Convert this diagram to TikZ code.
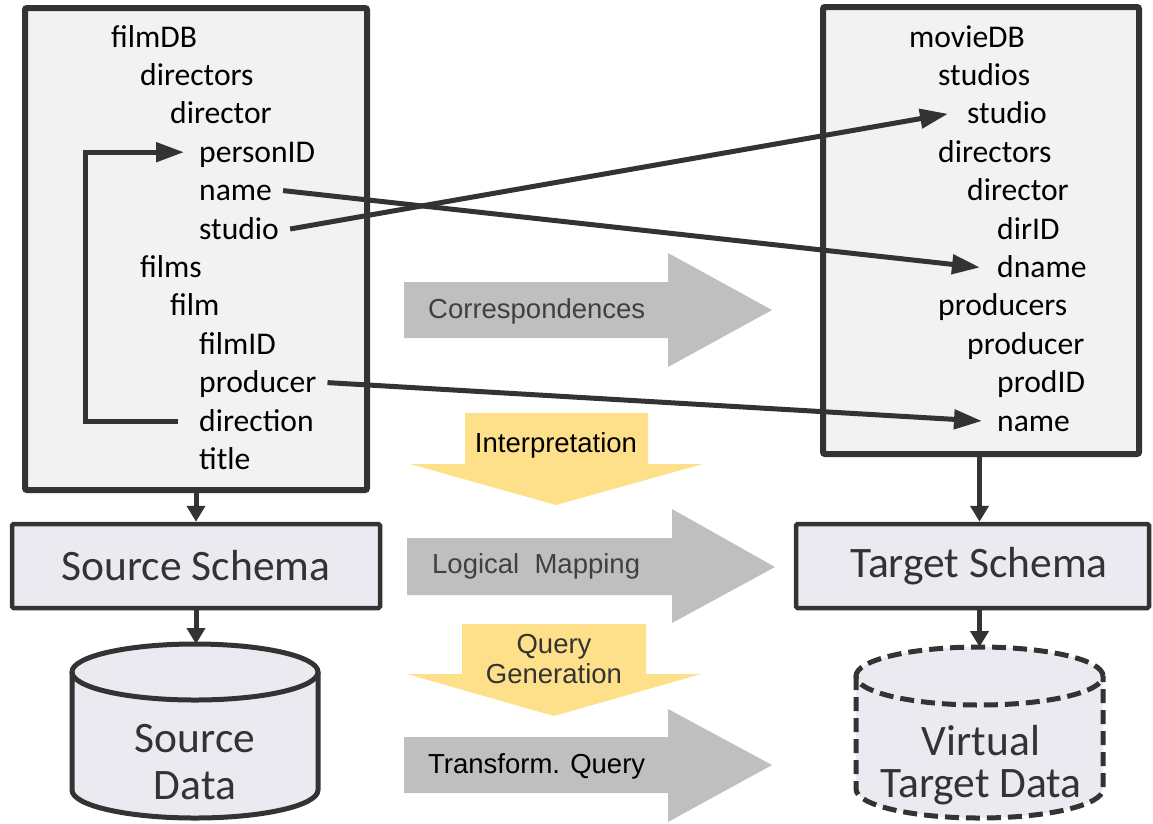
\documentclass[tikz,border=0pt]{standalone}
\usepackage{fontspec}
\setmainfont{Carlito}
\newfontfamily\arialfont{Liberation Sans}
\usetikzlibrary{arrows.meta}
\definecolor{ink}{HTML}{333333}
\definecolor{boxgray}{HTML}{F2F2F2}
\definecolor{lav}{HTML}{ECEAF1}
\definecolor{arrowgray}{HTML}{BFBFBF}
\definecolor{yell}{HTML}{FFE08A}
\definecolor{lbl}{HTML}{404040}
\newcommand{\itemfont}{\fontsize{31.6}{38}\selectfont}
\newcommand{\bigfont}{\fontsize{43.5}{47}\selectfont}
\newcommand{\labelfont}{\arialfont\fontsize{27.5}{30}\selectfont}
\tikzset{
  schemabox/.style={draw=ink, line width=6pt, fill=boxgray, rounded corners=2pt, inner sep=0pt},
  item/.style={anchor=base west, inner sep=0pt, text height=20pt, text depth=0pt, font=\itemfont},
  conn/.style={draw=ink, line width=5pt, -{Triangle[length=28pt,width=19pt]}},
  vconn/.style={draw=ink, line width=5pt, -{Triangle[length=16pt,width=18pt]}},
  schemalabel/.style={draw=ink, line width=4.5pt, fill=lav, rounded corners=1.5pt, minimum height=84pt, text=ink, font=\bigfont, inner sep=0pt},
  cyl/.style={draw=ink, line width=5pt},
  cyldash/.style={draw=ink, line width=5pt, dash pattern=on 14pt off 7pt},
  bigarrow/.style={fill=arrowgray, draw=none},
  yarrow/.style={fill=yell, draw=none},
  alabel/.style={font=\labelfont, inner sep=0pt, anchor=base west},
  clabel/.style={font=\labelfont, inner sep=0pt, anchor=base},
  datalabel/.style={font=\bigfont, text=ink, align=center, inner sep=0pt},
}
\begin{document}
\begin{tikzpicture}[x=1pt,y=-1pt]
\useasboundingbox (0,0) rectangle (1153,823);

% schema boxes
\node[schemabox, minimum width=342pt, minimum height=482pt] (srcbox) at (196,249) {};
\node[schemabox, minimum width=316pt, minimum height=447pt] (tgtbox) at (981,230.5) {};

% source items
\node[item] (l1) at (111,47) {filmDB};
\node[item] (l2) at (140,85.4) {directors};
\node[item] (l3) at (170,123.8) {director};
\node[item] (lpersonID) at (199,162.2) {personID};
\node[item] (lname) at (199,200.6) {name};
\node[item] (lstudio) at (199,239) {studio};
\node[item] (l7) at (140,277.4) {films};
\node[item] (l8) at (170,315.8) {film};
\node[item] (l9) at (199,354.2) {filmID};
\node[item] (lproducer) at (199,392.6) {producer};
\node[item] (ldirection) at (199,431) {direction};
\node[item] (l12) at (199,469.4) {title};

% target items
\node[item] (r1) at (909,47) {movieDB};
\node[item] (r2) at (938,85.4) {studios};
\node[item] (rstudio) at (967,123.8) {studio};
\node[item] (r4) at (938,162.2) {directors};
\node[item] (r5) at (967,200.6) {director};
\node[item] (r6) at (997,239) {dirID};
\node[item] (rdname) at (997,277.4) {dname};
\node[item] (r8) at (938,315.8) {producers};
\node[item] (r9) at (967,354.2) {producer};
\node[item] (r10) at (997,392.6) {prodID};
\node[item] (rname) at (997,431) {name};

% correspondences lines
\coordinate (loopx) at (85,0);
\draw[conn] ([xshift=-21pt]ldirection.west) -- (ldirection.west -| loopx)
  -- (lpersonID.west -| loopx) -- ([xshift=-15pt]lpersonID.west);
\draw[conn] ([xshift=11pt]lname.east) -- ([xshift=-17pt]rdname.west);
\draw[conn] ([xshift=11pt]lstudio.east) -- ([xshift=-19pt]rstudio.west);
\draw[conn] ([xshift=11pt]lproducer.east) -- ([xshift=-15pt]rname.west);

% schema label boxes
\node[schemalabel, minimum width=368pt] (srcschema) at (196,566) {Source Schema};
\node[schemalabel, minimum width=353pt] (tgtschema) at (972.5,566) {\hspace*{13pt}Target Schema};

% cylinders
\coordinate (srctop) at (196,644);
\coordinate (tgttop) at (979.5,647);
\path[fill=lav] (72,672) -- (72,790) arc[start angle=180,end angle=360,x radius=123pt,y radius=28pt]
  -- (318,672) arc[start angle=0,end angle=180,x radius=123pt,y radius=28pt] -- cycle;
\draw[cyl] (72,672) -- (72,790) arc[start angle=180,end angle=360,x radius=123pt,y radius=28pt] -- (318,672);
\draw[cyl] (195,672) ellipse[x radius=123pt, y radius=28pt];
\node[datalabel] (srcdata) at (195,762) {Source\\Data};

\path[fill=lav] (856,676) -- (856,789) arc[start angle=180,end angle=360,x radius=123.5pt,y radius=29pt]
  -- (1103,676) arc[start angle=0,end angle=180,x radius=123.5pt,y radius=29pt] -- cycle;
\draw[cyldash] (856,676) -- (856,789) arc[start angle=180,end angle=360,x radius=123.5pt,y radius=29pt] -- (1103,676);
\draw[cyldash] (979.5,676) ellipse[x radius=123.5pt, y radius=29pt];
\node[datalabel, font=\fontsize{43.5}{42}\selectfont] (tgtdata) at (981,765) {Virtual\\Target Data};

% vertical arrows
\draw[vconn] (srcbox.south) -- (srcschema.north);
\draw[vconn] (srcschema.south) -- (srctop);
\draw[vconn] (tgtbox.south -| tgttop) -- (tgtschema.north -| tgttop);
\draw[vconn] (tgtschema.south -| tgttop) -- (tgttop);

% block arrows
\path[bigarrow] (404,282) -- (668,282) -- (668,253) -- (772,310) -- (668,367) -- (668,338) -- (404,338) -- cycle;
\node[alabel, text=lbl] (corr) at (428,318) {Correspondences};

\path[yarrow] (465,413) -- (648,413) -- (648,464) -- (703,464) -- (556,505) -- (410,464) -- (465,464) -- cycle;
\node[clabel] (interp) at (556,452) {Interpretation};

\path[bigarrow] (407,538) -- (672,538) -- (672,509) -- (775,567) -- (672,623) -- (672,595) -- (407,595) -- cycle;
\node[alabel, text=lbl] (logmap) at (432,573) {Logical\ \ Mapping};

\path[yarrow] (462,624) -- (646,624) -- (646,674) -- (701,674) -- (554,716) -- (407,674) -- (462,674) -- cycle;
\node[clabel, text=ink] (qg1) at (554,653) {Query};
\node[clabel, text=ink] (qg2) at (554,683) {Generation};

\path[bigarrow] (404,737) -- (668,737) -- (668,709) -- (772,765) -- (668,822) -- (668,793) -- (404,793) -- cycle;
\node[alabel] (tq) at (428,773) {Transform. Query};
\end{tikzpicture}
\end{document}
